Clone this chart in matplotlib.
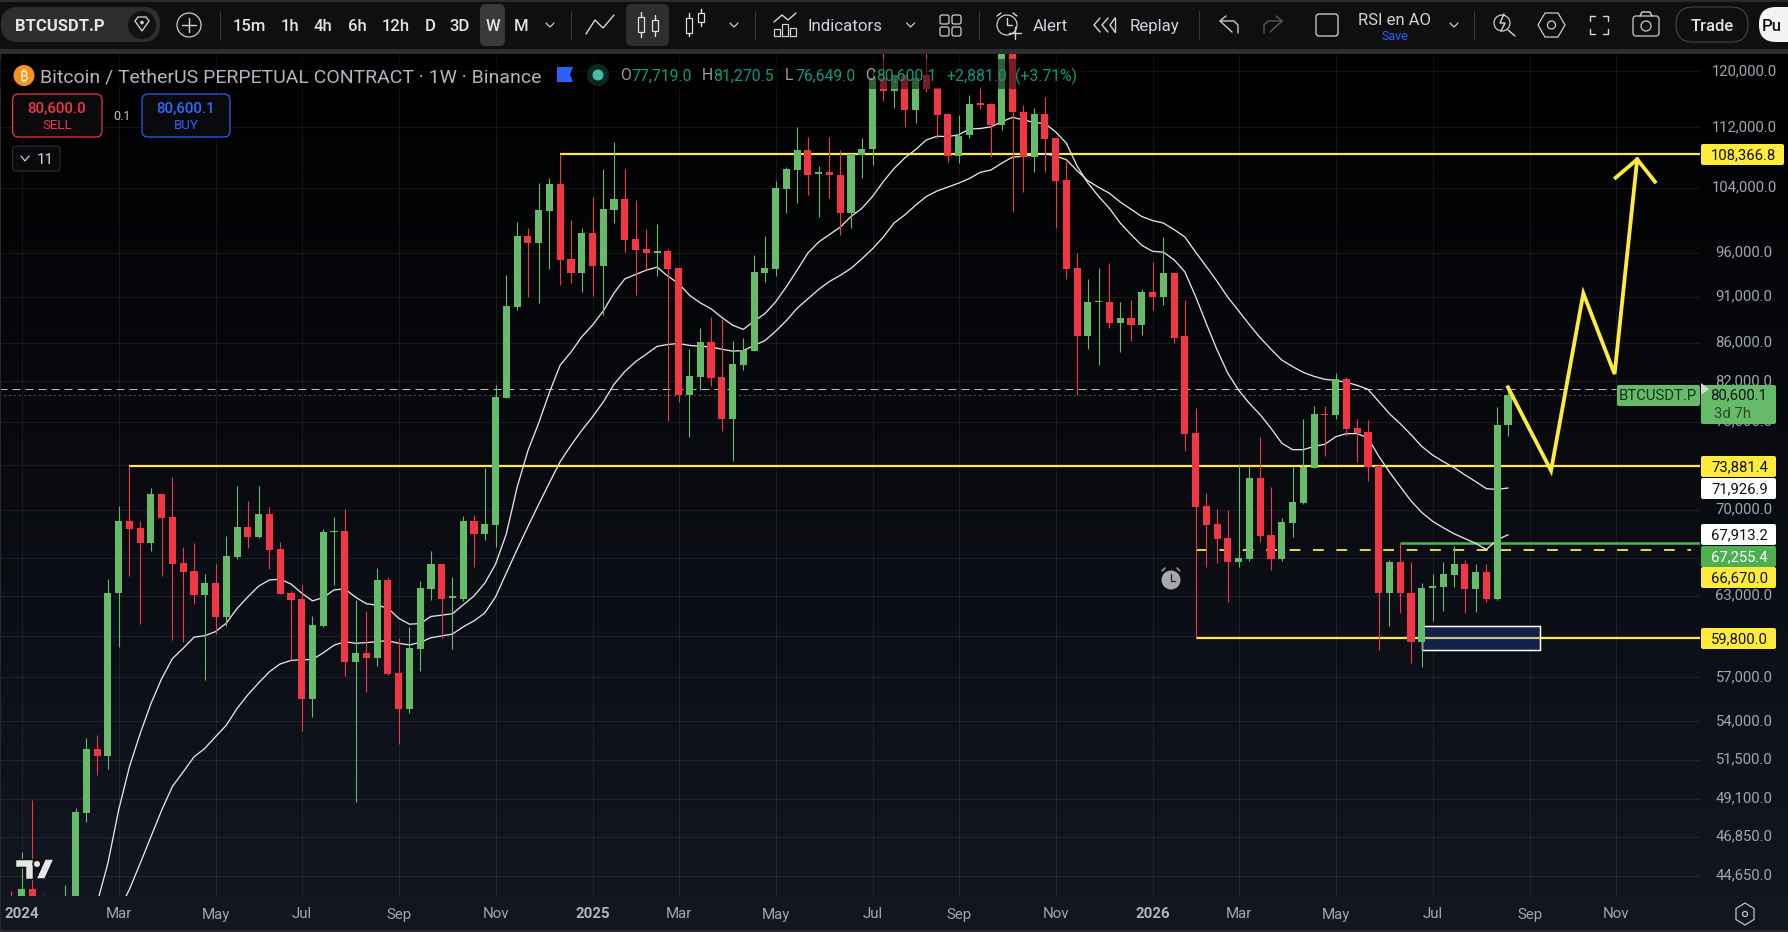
import numpy as np
import matplotlib
matplotlib.use("Agg")
import matplotlib.pyplot as plt
from matplotlib.patches import Circle, FancyBboxPatch, Polygon, Rectangle

plt.rcParams["font.family"] = ["Roboto", "DejaVu Sans"]

# weekly bars, first one is the week before the 2024 label
first_bar = -1
opens = [43000, 42000, 43950, 43000, 42000, 41000, 42000, 48280, 52210, 51780,
         63190, 69090, 68490, 67260, 71420, 69430, 65620, 64930, 63080, 64020,
         61400, 66120, 68570, 67740, 69680, 66700, 63240, 62740, 55490, 60700,
         68150, 68230, 58100, 58750, 58400, 64250, 57300, 54830, 59030, 63550,
         65550, 62850, 62770, 69090, 67980, 68760, 80320, 89840, 98030, 97190,
         101100, 104430, 95300, 93700, 98400, 94480, 101220, 102570, 97640, 96420,
         95980, 96200, 94250, 80600, 82420, 86060, 82420, 78270, 83650, 85100,
         93700, 94120, 103890, 106270, 109000, 105800, 106000, 105700, 100840, 108230,
         109050, 119000, 117200, 119500, 114400, 119400, 117500, 113850, 108200, 110970,
         115400, 115300, 112400, 124500, 114200, 108000, 113800, 110500, 105000, 94200,
         86720, 90400, 90400, 88100, 88650, 87900, 91550, 90950, 93650, 86700,
         76950, 70350, 68800, 67620, 65680, 65950, 72780, 67880, 65950, 68870,
         70600, 73700, 78800, 78650, 82230, 77400, 77050, 73870, 63200, 65650,
         63250, 59560, 63600, 63700, 64640, 65480, 63500, 64900, 62800, 77719]
highs = [43850, 45980, 49030, 43630, 43000, 44150, 48540, 52890, 53100, 64300,
         70360, 73880, 69090, 71950, 71420, 72900, 66900, 67230, 64700, 65500,
         67800, 72150, 70800, 72150, 70270, 67300, 63400, 63860, 61500, 68410,
         69430, 70120, 62700, 61830, 65180, 64480, 59820, 60670, 64170, 66550,
         65550, 64480, 69520, 69600, 73700, 81670, 93450, 99730, 99000, 104570,
         105300, 108370, 100000, 99000, 102830, 106400, 110000, 106400, 102450, 98860,
         99500, 96420, 94370, 85300, 87540, 88700, 88500, 86150, 86450, 95750,
         98000, 104900, 106650, 112000, 110700, 106800, 110700, 109000, 108350, 110500,
         120000, 124000, 119500, 119500, 119500, 124000, 117500, 114000, 113700, 116600,
         117700, 115400, 126000, 126000, 115200, 114700, 116300, 110600, 107500, 96000,
         93000, 94300, 94800, 90400, 90650, 91900, 94900, 97900, 93650, 90650,
         79400, 71470, 70100, 70000, 74060, 73880, 76550, 72000, 69300, 73800,
         78260, 79600, 79600, 82850, 82430, 78250, 78150, 74060, 65820, 67200,
         65650, 63980, 64730, 65650, 67000, 65820, 65560, 65480, 79500, 81270.5]
lows = [41000, 40500, 40000, 41000, 41000, 40500, 41000, 47750, 50560, 50950,
        59200, 64600, 60900, 66600, 64600, 59700, 59560, 62400, 56800, 60130,
        60740, 65950, 66860, 67660, 65100, 63170, 58200, 53370, 54290, 60670,
        63880, 57100, 48930, 56000, 57800, 57170, 52550, 54560, 57450, 62670,
        59820, 59000, 62630, 65240, 67520, 66900, 80320, 89500, 90900, 90270,
        94130, 92300, 92520, 91470, 91050, 89000, 99600, 96100, 91150, 94000,
        93300, 78100, 79900, 76550, 81100, 81500, 77130, 74400, 83100, 85100,
        92600, 93300, 100850, 102100, 103070, 100350, 102700, 98200, 99000, 105200,
        107000, 115700, 114700, 112000, 112600, 117000, 110500, 107300, 107200, 110500,
        114500, 108000, 111600, 101000, 103500, 106100, 106000, 99000, 93000, 80600,
        85300, 83650, 87600, 85000, 86200, 86800, 89500, 90100, 86000, 75300,
        59800, 65310, 65600, 62500, 65250, 65800, 67300, 65000, 65800, 67700,
        70500, 73700, 74800, 78250, 76650, 74250, 72550, 58930, 60750, 61730,
        58000, 57750, 61100, 61860, 63720, 61730, 61800, 62500, 62700, 76649]
closes = [42200, 43950, 41500, 42000, 41300, 42900, 48320, 52210, 51780, 63240,
          69090, 68410, 67260, 71420, 69370, 65550, 64880, 63080, 64020, 61400,
          66200, 68570, 67740, 69680, 66620, 63170, 62700, 55490, 60780, 68150,
          68230, 58100, 58750, 58400, 64250, 57240, 54830, 59100, 63630, 65550,
          62770, 62900, 69090, 67980, 68840, 80420, 89950, 98030, 97190, 101220,
          104430, 95180, 93700, 98400, 94480, 101350, 102570, 97520, 96300, 95980,
          96200, 94120, 80600, 82530, 86060, 82320, 78270, 83750, 85200, 93780,
          94250, 104000, 106400, 109000, 105700, 106000, 105600, 100840, 108350, 109090,
          119000, 117200, 119500, 114400, 119000, 117400, 113700, 108200, 110900, 115300,
          115200, 112400, 124500, 114100, 108000, 113800, 110450, 104900, 94090, 86720,
          90400, 90500, 88100, 88650, 87900, 91550, 90950, 93650, 86500, 76860,
          70250, 68710, 67540, 65680, 66000, 72780, 67800, 65950, 68950, 70680,
          73800, 78810, 78700, 82230, 77320, 77000, 73780, 63200, 65650, 63200,
          59560, 63600, 63780, 64730, 65480, 63500, 64900, 62800, 77719, 80600.1]

# the two white moving averages
fast_start = 7
fast_ma = [43200, 45360, 48430, 51070, 53200, 55200, 56920, 58340, 59080, 59890,
           60000, 60300, 60930, 62040, 62930, 63760, 64250, 64300, 63930, 63210,
           62620, 62870, 63470, 63550, 62900, 62400, 62290, 62060, 61300, 60850,
           60900, 61430, 61530, 61640, 62320, 63000, 64000, 65510, 68000, 72000,
           75300, 77900, 80900, 83650, 85000, 86600, 87860, 89400, 91400, 93000,
           93500, 94000, 94350, 93300, 92470, 91150, 90300, 89650, 88700, 87860,
           87400, 88300, 89100, 90400, 92100, 94000, 96000, 97300, 98200, 99100,
           100400, 101400, 102900, 104800, 106500, 107900, 109000, 110300, 110800, 110750,
           111000, 111800, 111850, 112100, 112800, 113400, 113050, 112700, 112550, 111400,
           109850, 106800, 104600, 102900, 101400, 99600, 98200, 96900, 96200, 96100,
           95200, 93800, 91000, 88000, 85200, 82800, 81100, 79800, 78700, 77400,
           76000, 75400, 75400, 75700, 75900, 76600, 76900, 76900, 76500, 74800,
           73350, 72050, 70800, 69800, 69050, 68500, 68000, 67600, 67200, 66700,
           67500, 67913.2]
slow_start = 9
slow_ma = [42800, 43930, 45360, 46870, 48430, 49860, 50760, 51700, 52240, 53000,
           53750, 54870, 55800, 56620, 57400, 57950, 58200, 58250, 58270, 58750,
           59300, 59560, 59440, 59490, 59560, 59630, 59440, 59320, 59510, 59850,
           59980, 60120, 60660, 61100, 61700, 62930, 64800, 66700, 68600, 70500,
           72400, 74300, 75800, 77200, 78500, 79950, 81700, 83000, 84000, 84800,
           85600, 85800, 85900, 85700, 85600, 85550, 85300, 85100, 85150, 85700,
           86200, 87200, 88350, 89700, 90750, 91800, 92700, 93400, 94200, 95300,
           96500, 97900, 99600, 100600, 101800, 102900, 103600, 104100, 104600, 105200,
           106000, 106300, 107200, 108000, 108100, 108300, 108450, 108150, 107650, 106200,
           104900, 104050, 103300, 102200, 101300, 100400, 99900, 99600, 98800, 97900,
           96100, 94400, 92700, 90900, 89400, 87900, 86500, 85300, 84170, 83500,
           82900, 82500, 82200, 82100, 81900, 81600, 81200, 80000, 78800, 77840,
           76800, 75700, 74900, 74300, 73750, 73100, 72500, 71870, 71810, 71926.9]

# horizontal levels drawn on the chart
level_high = 108366.8
level_mid = 73881.4
level_low = 59800.0
level_dash = 66670.0
level_green = 67255.4
last_high = 81270.5
last_close = 80600.1

# hand drawn projection
path_bars = [138, 142, 145, 147.9, 150]
path_prices = [81400, 73480, 91360, 82740, 107700]
arrow_bars = [148, 150, 151.65]
arrow_prices = [105300, 107700, 104780]

price_ticks = [120000, 112000, 104000, 96000, 91000, 86000, 82000, 78000, 74000, 70000,
               66000, 63000, 60000, 57000, 54000, 51500, 49100, 46850, 44650]
hidden_ticks = [74000, 66000, 60000]
month_labels = ["2024", "Mar", "May", "Jul", "Sep", "Nov", "2025", "Mar", "May", "Jul",
                "Sep", "Nov", "2026", "Mar", "May", "Jul", "Sep", "Nov"]
month_bars = [0, 9, 18, 26, 35, 44, 53, 61, 70, 79, 87, 96, 105, 113, 122, 131, 140, 148]

tag_labels = ["108,366.8", "73,881.4", "71,926.9", "67,913.2", "67,255.4", "66,670.0", "59,800.0"]
timeframes = ["15m", "1h", "4h", "6h", "12h", "D", "3D", "W", "M"]

UP = "#66bb6a"
DOWN = "#f23645"
YELLOW = "#ffeb3b"
GREEN = "#4caf50"
AXIS_TXT = "#a3a6af"
W, H = 1788, 932
PANE_T, PANE_B, PANE_R = 54, 896, 1700
BAR0_PX, BAR_PX = 21.7, 10.77
px = 1 / 1.3889  # one pixel in points

fig = plt.figure(figsize=(W / 100, H / 100), dpi=100, facecolor="#000000")

# background gradient
ax_bg = fig.add_axes([0, 0, 1, 1], zorder=0)
grad = np.linspace(0, 1, 256)[:, None, None] * np.array([[[0x13, 0x17, 0x22]]]) / 255
ax_bg.imshow(grad, extent=[0, W, H, PANE_T], aspect="auto")
ax_bg.set_xlim(0, W)
ax_bg.set_ylim(H, 0)
ax_bg.axis("off")

# the chart pane
ax = fig.add_axes([0, 1 - PANE_B / H, PANE_R / W, (PANE_B - PANE_T) / H], zorder=1)
ax.patch.set_alpha(0)
ax.set_yscale("log")
ax.set_xlim((0 - BAR0_PX) / BAR_PX, (PANE_R - BAR0_PX) / BAR_PX)
ax.set_ylim(120000 * np.exp(-(PANE_B - 71.3) / 814.2), 120000 * np.exp((71.3 - PANE_T) / 814.2))
ax.axis("off")

for p in price_ticks:
    ax.axhline(p, color="white", alpha=0.075, lw=px, zorder=1)
for b in month_bars:
    ax.axvline(b, color="white", alpha=0.075, lw=px, zorder=1)

ax.hlines(level_high, 50, 160, color=YELLOW, lw=2.2 * px, zorder=2)
ax.hlines(level_mid, 10, 160, color=YELLOW, lw=2.2 * px, zorder=2)
ax.hlines(level_low, 109, 160, color=YELLOW, lw=2.2 * px, zorder=2)
ax.hlines(last_high, -3, 148, color="#bdbdbd", lw=1.0 * px, linestyles=(0, (8, 5)), zorder=2)
ax.hlines(last_close, -3, 148, color="#8fa596", lw=1.0 * px, linestyles=(0, (1, 4)), zorder=2)

ax.add_patch(Rectangle((130, 58960), 11, 60740 - 58960, fc="#132148", ec="white",
                       lw=1.5 * px, zorder=2.5))
ax.hlines(level_low, 130, 141, color="#c9c47c", lw=2.2 * px, zorder=2.6)

ax.hlines(level_dash, 109, 155, color=YELLOW, lw=1.8 * px, linestyles=(0, (6, 7)), zorder=2.7)
ax.hlines(level_green, 128, 160, color=GREEN, lw=2.6 * px, zorder=2.7)

ax.plot(np.arange(len(fast_ma)) + fast_start, fast_ma, color="#e6e6e6", lw=1.3 * px, zorder=3)
ax.plot(np.arange(len(slow_ma)) + slow_start, slow_ma, color="#e6e6e6", lw=1.3 * px, zorder=3)

bars = np.arange(len(opens)) + first_bar
o, h, l, c = map(np.array, (opens, highs, lows, closes))
colors = [UP if c_ >= o_ else DOWN for o_, c_ in zip(o, c)]
ax.vlines(bars, l, h, color=colors, lw=1.1 * px, zorder=4)
ax.bar(bars, np.maximum(np.abs(c - o), 120), bottom=np.minimum(o, c), width=0.66,
       color=colors, lw=0, zorder=5)

ax.plot(path_bars, path_prices, color=YELLOW, lw=3.8 * px, solid_joinstyle="miter", zorder=6)
ax.plot(arrow_bars, arrow_prices, color=YELLOW, lw=3.8 * px, solid_joinstyle="miter", zorder=6)

# everything around the chart in screen pixels
ui = fig.add_axes([0, 0, 1, 1], zorder=2)
ui.patch.set_alpha(0)
ui.set_xlim(0, W)
ui.set_ylim(H, 0)
ui.axis("off")


def txt(x, y, s, color="#d1d4dc", size=12, ha="center", **kw):
    ui.text(x, y, s, color=color, fontsize=size, ha=ha, va="center_baseline", **kw)


def rbox(x0, y0, x1, y1, r=3, fc="none", ec="none", lw=1.0, zorder=1.5, alpha=None):
    ui.add_patch(FancyBboxPatch((x0 + r, y0 + r), x1 - x0 - 2 * r, y1 - y0 - 2 * r,
                                boxstyle=f"round,pad={r}", fc=fc, ec=ec, lw=lw * px,
                                zorder=zorder, alpha=alpha, mutation_aspect=1))


def stroke(xs, ys, color="#d1d4dc", lw=1.4):
    ui.plot(xs, ys, color=color, lw=lw * px, solid_capstyle="round", zorder=2.5)


# toolbar
ui.add_patch(Rectangle((0, 0), W, 49, fc="#0f0f0f", ec="none", zorder=0.5))
ui.add_patch(Rectangle((0, 0), W, 1.5, fc="#2a2a2a", ec="none", zorder=0.5))
ui.add_patch(Rectangle((0, 49), W, 5, fc="#2e2e2e", ec="none", zorder=0.5))
ui.add_patch(Rectangle((0, 54), 1.2, H - 54, fc="#2a2a2a", ec="none", zorder=0.5))
ui.add_patch(Rectangle((0, 930), W, 2, fc="#2a2a2a", ec="none", zorder=0.5))

rbox(1, 7, 160, 42, r=17, fc="#2e2e2e")
txt(60, 25, "BTCUSDT.P", color="#e3e3e3", size=12, fontweight="bold")
ui.add_patch(Circle((142, 25), 14, fc="#111111", ec="none", zorder=2))
ui.add_patch(Polygon([(135, 21), (138, 17), (146, 17), (149, 21), (142, 31)], fc="none",
                     ec="#d1d4dc", lw=1.3 * px, zorder=2.5))
ui.add_patch(Circle((142, 22.5), 1.8, fc="#d1d4dc", ec="none", zorder=2.5))
ui.add_patch(Circle((189, 25), 12, fc="none", ec="#d1d4dc", lw=1.2 * px))
stroke([182, 196], [25, 25])
stroke([189, 189], [18, 32])
for sep in [220, 570.6, 755, 979, 1198.7, 1474]:
    ui.plot([sep, sep], [11, 39], color="#3a3a3a", lw=px)

rbox(480, 4, 505, 46, r=6, fc="#3a3a3a")
rbox(626, 4, 669, 46, r=6, fc="#2e2e2e")
tf_x = [249, 290, 323, 357, 395.5, 430, 460, 492.5, 521]
for x, s in zip(tf_x, timeframes):
    txt(x, 25, s, color="#e3e3e3", size=12, fontweight="medium")
for cx in [550, 734, 910.6, 1454]:
    stroke([cx - 4, cx, cx + 4], [23, 27, 23], lw=1.2)
stroke([586, 595, 603, 614], [34, 20, 28, 15])

for cx, y0, y1, b0, b1 in [(641, 12, 37, 17, 32), (655, 15, 36, 20, 31), (689, 13, 36, 18, 33), (701, 9, 26, 13, 22)]:
    stroke([cx, cx], [y0, b0], color="#e3e3e3")
    stroke([cx, cx], [b1, y1], color="#e3e3e3")
    ui.add_patch(Rectangle((cx - 3, b0), 6, b1 - b0, fc="none", ec="#e3e3e3", lw=1.2 * px, zorder=2.5))

for x0, y0 in [(774, 29), (782, 24), (790, 28)]:
    ui.add_patch(Rectangle((x0, y0), 6, 36 - y0, fc="none", ec="#d1d4dc", lw=1.2 * px))
stroke([774, 782, 788, 796], [22, 15, 20, 13])
txt(845, 25, "Indicators", size=12.2)
for gx, gy in [(940, 15), (952, 15), (940, 27), (952, 27)]:
    rbox(gx, gy, gx + 9, gy + 9, r=2, ec="#d1d4dc", lw=1.2)

ui.add_patch(Circle((1007, 25), 10, fc="none", ec="#d1d4dc", lw=1.2 * px))
stroke([1007, 1007, 1012], [18, 25, 25])
stroke([997, 1001], [16, 13])
stroke([1013, 1017], [13, 16])
stroke([1009, 1021], [33, 33])
stroke([1015, 1015], [27, 39])
txt(1050, 25, "Alert", size=12.2)
stroke([1100, 1094, 1100], [18, 25, 32])
stroke([1108, 1102, 1108], [18, 25, 32])
stroke([1115, 1115], [18, 32])
stroke([1115, 1110, 1115], [18, 25, 32])
txt(1154.6, 25, "Replay", size=12.2)
stroke([1232, 1220, 1226], [32, 21, 16], color="#c5c8d0")
stroke([1220, 1234, 1238, 1238], [21, 21, 25, 33], color="#c5c8d0")
stroke([1270, 1282, 1276], [32, 21, 16], color="#5a5a5a")
stroke([1282, 1268, 1264, 1264], [21, 21, 25, 33], color="#5a5a5a")
rbox(1316, 14, 1338, 36, r=3, ec="#d1d4dc", lw=1.3)
txt(1394.6, 19, "RSI en AO", size=12)
txt(1394.6, 35, "Save", color="#2962ff", size=9)

ui.add_patch(Circle((1502, 23), 8, fc="none", ec="#d1d4dc", lw=1.2 * px))
stroke([1508, 1515], [30, 36])
stroke([1504, 1500, 1505, 1501], [14, 23, 23, 31])
ui.add_patch(Polygon([(1538, 25), (1545, 13), (1558, 13), (1565, 25), (1558, 37), (1545, 37)],
                     fc="none", ec="#d1d4dc", lw=1.2 * px))
ui.add_patch(Circle((1551.5, 25), 4, fc="none", ec="#d1d4dc", lw=1.2 * px))
for sx, sy in [(-1, -1), (1, -1), (-1, 1), (1, 1)]:
    stroke([1599 + sx * 9, 1599 + sx * 9, 1599 + sx * 4], [25 + sy * 4, 25 + sy * 9, 25 + sy * 9])
rbox(1633, 16, 1659, 36, r=3, ec="#d1d4dc", lw=1.2)
stroke([1640, 1642, 1650, 1652], [16, 12, 12, 16])
ui.add_patch(Circle((1646, 26), 5, fc="none", ec="#d1d4dc", lw=1.2 * px))
rbox(1676, 7, 1748, 42, r=17, ec="#4a4a4a", lw=1.0)
txt(1712, 25, "Trade", color="#e3e3e3", size=12, fontweight="medium")
rbox(1759, 7, 1810, 42, r=17, fc="#f4f4f4")
ui.text(1772, 25, "Pu", color="#111111", fontsize=12, fontweight="medium", ha="center",
        va="center_baseline", clip_on=True)

# legend strip darkens the candles behind it
ui.add_patch(Rectangle((0, 59), 1084, 30, fc="black", ec="none", alpha=0.5, zorder=1))
ui.add_patch(Circle((24, 75.5), 10.5, fc="#f7931a", ec="none", zorder=2))
txt(24, 75.5, "₿", color="white", size=10.5, family=["Noto Sans", "Open Sans", "Lato", "Inter", "Roboto", "Liberation Sans", "DejaVu Sans"], fontweight="bold")
txt(40, 75, "Bitcoin / TetherUS PERPETUAL CONTRACT · 1W · Binance", color="#b2b5be", size=14, ha="left")
ui.add_patch(Polygon([(557, 67), (573, 67), (570, 74.5), (573, 82), (557, 82)], fc="#2962ff", ec="none", zorder=2))
ui.add_patch(Circle((598, 75), 11, fc="#0c2623", ec="none", zorder=2))
ui.add_patch(Circle((598, 75), 5.5, fc="#42bda8", ec="none", zorder=2.5))
TEAL = "#089981"
for x, s, col in [(620, "O", "#9a9ea8"), (631.5, "77,719.0", TEAL), (701.5, "H", "#9a9ea8"),
                  (713, "81,270.5", TEAL), (785, "L", "#9a9ea8"), (795, "76,649.0", TEAL),
                  (865, "C", "#9a9ea8"), (876, "80,600.1", TEAL), (946, "+2,881.0", TEAL),
                  (1015, "(+3.71%)", TEAL)]:
    txt(x, 74.5, s, color=col, size=11.3, ha="left")

rbox(12.6, 94, 102, 137, r=6, fc="#0a0a0c", ec=DOWN, lw=1.2)
txt(57, 107, "80,600.0", color=DOWN, size=10.8, fontweight="medium")
txt(57, 124, "SELL", color=DOWN, size=9.5)
txt(122, 115, "0.1", color="#c5c8d0", size=9)
rbox(142, 94, 230, 137, r=6, fc="#0a0a0c", ec="#2962ff", lw=1.2)
txt(186, 107, "80,600.1", color="#2f6bff", size=10.8, fontweight="medium")
txt(186, 124, "BUY", color="#2962ff", size=9.5)
rbox(12.6, 146, 60, 171, r=3, fc="#0a0a0c", ec="#333333", lw=1)
stroke([21, 25, 29], [156, 161, 156], lw=1.2)
txt(45, 158.5, "11", color="#d1d4dc", size=11)

# price axis, the tags below sit on top of these labels
for p in price_ticks:
    if p in hidden_ticks:
        continue
    y = 71.3 + 814.2 * np.log(120000 / p)
    txt(1744, y - 2, f"{p:,.1f}", color=AXIS_TXT, size=10.7, zorder=1.2)

# axis tags, stacked the way the platform stacks them
tag_rows = [(1701, 1784, 144, 165, YELLOW, "#111111"), (1701, 1776, 456, 477, YELLOW, "#111111"),
            (1701, 1776, 478, 499, "#ffffff", "#111111"), (1701, 1776, 524, 545, "#ffffff", "#111111"),
            (1701, 1776, 546, 567, GREEN, "#ffffff"), (1701, 1776, 567, 588, YELLOW, "#111111"),
            (1701, 1776, 628, 649, YELLOW, "#111111")]
for s, (x0, x1, y0, y1, fc, tc) in zip(tag_labels, tag_rows):
    rbox(x0, y0, x1, y1, r=2, fc=fc)
    txt((x0 + x1) / 2 + 1, (y0 + y1) / 2 - 1, s, color=tc, size=10.7)

rbox(1701, 385, 1776, 424, r=2, fc=UP)
txt(1739, 394, "80,600.1", color="#111111", size=10.7)
txt(1714, 412, "3d 7h", color="#2b4a2e", size=10.7, ha="left")
rbox(1617, 385, 1700, 406, r=2, fc=UP)
txt(1658, 394.5, "BTCUSDT.P", color="#14301a", size=10.7)
ui.add_patch(Polygon([(1701, 383), (1709, 389), (1701, 395)], fc="#d8d8d8", ec="none", zorder=2))

# time axis
years = {"2024", "2025", "2026"}
for b, s in zip(month_bars, month_labels):
    x = BAR0_PX + BAR_PX * b
    if s in years:
        txt(x, 913, s, color="#b2b5be", size=10.8, fontweight="bold")
    else:
        txt(x, 913, s, color=AXIS_TXT, size=10.8)

ui.add_patch(Polygon([(1745, 903), (1754, 908.5), (1754, 919.5), (1745, 925), (1736, 919.5), (1736, 908.5)],
                     fc="none", ec="#c5c8d0", lw=1.2 * px))
ui.add_patch(Circle((1745, 914), 2.5, fc="none", ec="#c5c8d0", lw=1.2 * px))

# alarm marker on the chart
ui.add_patch(Circle((1171, 580), 9.5, fc="#a8a8a8", ec="none", zorder=2))
stroke([1171, 1171, 1175], [574, 581, 581], color="#2a2a2a")
stroke([1162, 1165], [571, 568], color="#a8a8a8")
stroke([1177, 1180], [568, 571], color="#a8a8a8")

# logo bottom left
logo = dict(fc="#e6e6e6", ec="#111111", lw=1.5 * px, zorder=8)
ui.add_patch(Polygon([(15, 859), (33, 859), (33, 879), (25, 879), (25, 867), (15, 867)], **logo))
ui.add_patch(Circle((37, 864), 3.8, **logo))
ui.add_patch(Polygon([(45, 859), (54, 859), (45, 879), (36, 879)], **logo))

fig.savefig("out.png", dpi=100, facecolor=fig.get_facecolor())
